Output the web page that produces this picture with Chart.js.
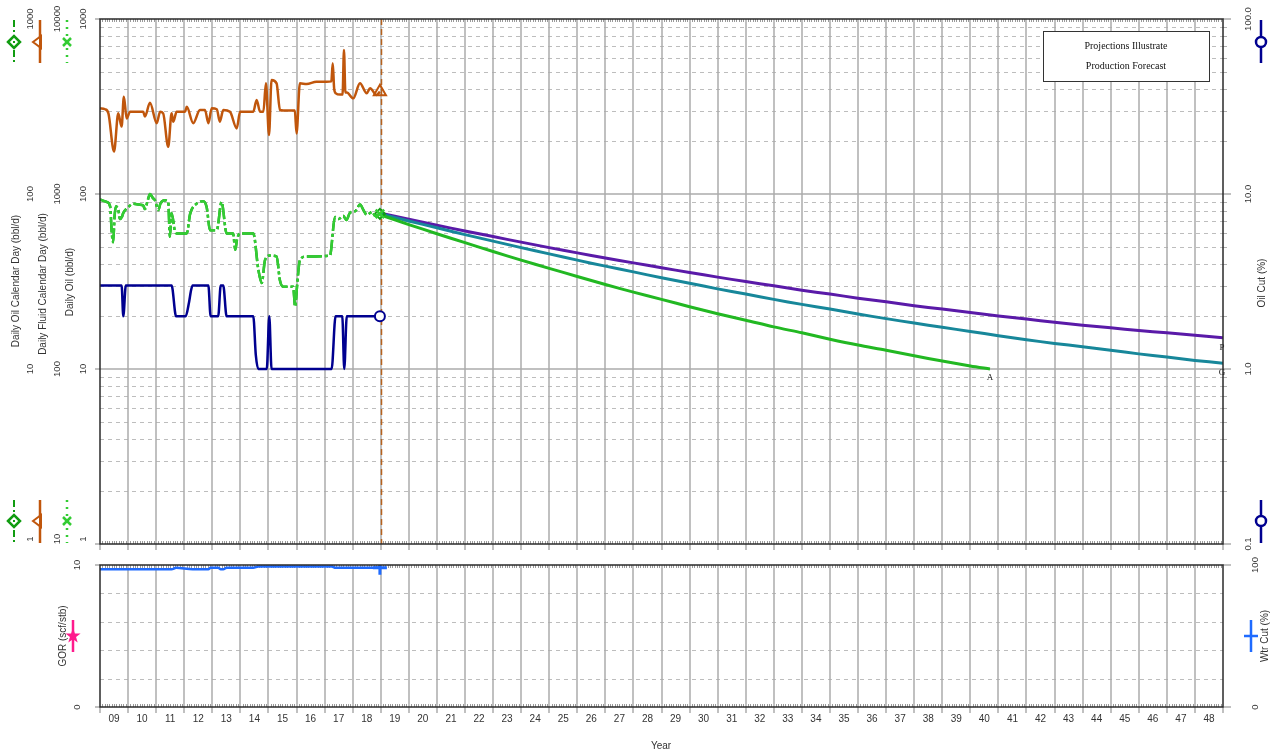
<!DOCTYPE html>
<html><head><meta charset="utf-8"><title>Production Forecast</title>
<script src="https://cdn.jsdelivr.net/npm/chart.js@4.4.1/dist/chart.umd.min.js"></script>
<style>
html,body{margin:0;padding:0;background:#fff;}
body{width:1282px;height:755px;position:relative;overflow:hidden;}
canvas{position:absolute;left:0;}
#top{top:0}
#bot{top:555px}
</style></head><body>
<canvas id="top" width="1282" height="555"></canvas>
<canvas id="bot" width="1282" height="200"></canvas>
<script>
// ---------- DATA ----------
const yearLabels = ['09','10','11','12','13','14','15','16','17','18','19','20','21','22','23','24','25','26','27','28','29','30','31','32','33','34','35','36','37','38','39','40','41','42','43','44','45','46','47','48'];
const oilCalTicks = ['1000','100','10','1'];
const fluidTicks = ['10000','1000','100','10'];
const oilTicks = ['1000','100','10','1'];
const oilCutTicks = ['100.0','10.0','1.0','0.1'];
const gorTicks = ['10','0'];
const wtrTicks = ['100','0'];

// Daily Fluid Calendar Day (bbl/d)
const fluidT = [2009.00,2009.18,2009.30,2009.50,2009.65,2009.77,2009.85,2009.95,2010.07,2010.54,2010.60,2010.78,2011.02,2011.14,2011.25,2011.43,2011.55,2011.61,2011.73,2012.03,2012.09,2012.32,2012.56,2012.74,2012.86,2012.98,2013.16,2013.27,2013.39,2013.63,2013.87,2013.99,2014.46,2014.58,2014.70,2014.82,2014.91,2015.02,2015.11,2015.29,2015.41,2015.53,2015.94,2016.00,2016.12,2016.36,2016.71,2017.07,2017.24,2017.29,2017.34,2017.40,2017.55,2017.64,2017.69,2017.74,2017.79,2018.02,2018.26,2018.50,2018.62,2018.85,2018.97];
const fluidV = [3090,3050,2890,1750,2890,2430,3600,2700,2950,2950,2770,3320,2540,2950,2890,1860,2890,2590,2950,2950,3150,2540,3020,3020,2540,3090,3050,2590,3020,2950,2370,2950,2950,3450,2950,2950,4290,2170,4480,4290,3020,3000,3000,2220,4290,4250,4380,4380,4400,5580,4000,3760,3700,3700,6650,3800,3800,3520,4290,3760,4020,3680,3840];

// Daily Oil Calendar Day / Daily Oil (bbl/d)
const oilT = [2009.00,2009.24,2009.36,2009.42,2009.47,2009.52,2009.57,2009.66,2009.71,2009.78,2009.83,2010.00,2010.19,2010.40,2010.54,2010.60,2010.70,2010.78,2010.88,2010.96,2011.08,2011.15,2011.31,2011.43,2011.49,2011.55,2011.67,2011.73,2012.09,2012.21,2012.44,2012.68,2012.80,2012.92,2013.16,2013.33,2013.51,2013.74,2013.82,2013.88,2013.99,2014.46,2014.64,2014.76,2014.88,2015.05,2015.29,2015.41,2015.53,2015.88,2015.95,2016.02,2016.12,2016.36,2017.19,2017.37,2017.50,2017.66,2017.78,2017.90,2018.10,2018.26,2018.40,2018.50,2018.70,2018.80,2018.97];
const oilCalV = [93,90,85,60,53,75,85,80,72,74,78,84,88,87,86,82,92,100,95,92,81,88,92,90,57,78,61,59.5,59.5,77,88,91,84,62,62,90,59.5,59.5,48,55,59.5,59.5,37,31,42,44.5,44,32,29.5,29.5,22.7,30,42,44,44.5,74,72,75,71,78,80,87,80,76,79,75,77];
const oilV = [93,90,85,60,53,75,85,80,72,74,78,84,88,87,86,82,92,100,95,92,81,88,92,90,57,78,61,59.5,59.5,77,88,91,84,62,62,90,59.5,59.5,48,55,59.5,59.5,37,31,42,44.5,44,32,29.5,29.5,22.7,30,42,44,44.5,74,72,75,71,78,80,87,80,76,79,75,77];

// Oil Cut (%)
const cutT = [2009.00,2009.77,2009.83,2009.92,2011.55,2011.71,2012.05,2012.17,2012.24,2012.30,2012.86,2012.94,2013.21,2013.30,2013.39,2013.51,2014.46,2014.55,2014.64,2014.94,2015.03,2015.11,2017.25,2017.39,2017.63,2017.70,2017.79,2018.97];
const oilCutV = [3,3,2,3,3,2,2,2.4,2.8,3,3,2,2,3,3,2,2,1.2,1,1,2,1,1,2,2,1,2,2];

// Wtr Cut (%)
const wtrT = [2009.00,2011.55,2011.71,2012.30,2012.86,2012.94,2013.21,2013.30,2013.39,2013.51,2014.46,2014.64,2017.25,2017.39,2018.97];
const wtrCutV = [97,97,98,97,97,98,98,97,97,98,98,99,99,98,98];

// Forecasts (bbl/d)
const fcYears = [2019,2020,2021,2022,2023,2024,2025,2026,2027,2028,2029,2030,2031,2032,2033,2034,2035,2036,2037,2038,2039,2040,2041,2042,2043,2044,2045,2046,2047,2048,2049];
const fcP = [77.6,71.7,66.3,61.5,57.1,53.1,49.4,46.1,43.1,40.4,37.9,35.6,33.5,31.6,29.9,28.2,26.8,25.4,24.2,23.0,22.0,21.0,20.1,19.3,18.5,17.8,17.2,16.6,16.1,15.6,15.1];
const fcG = [76.9,70.1,64.1,58.6,53.8,49.4,45.5,41.9,38.7,35.9,33.2,30.9,28.7,26.8,25.0,23.4,22.0,20.6,19.4,18.3,17.3,16.4,15.5,14.7,14.0,13.4,12.8,12.2,11.7,11.2,10.8];
const fcAYears = [2019,2020,2021,2022,2023,2024,2025,2026,2027,2028,2029,2030,2031,2032,2033,2034,2035,2036,2037,2038,2039,2040,2040.7];
const fcA = [75.9,66.9,59.3,52.7,46.9,41.9,37.6,33.8,30.4,27.5,25.0,22.7,20.7,19.0,17.4,16.1,14.8,13.7,12.8,11.9,11.1,10.4,10.0];

// ---------- HELPERS ----------
const SANS = '"Liberation Sans", Arial, sans-serif';
const SERIF = '"Liberation Serif", "Times New Roman", serif';
const pts = (ts, vs) => ts.map((t, i) => ({x: t, y: vs[i]}));
const lastR = r => c => (c.dataIndex === c.dataset.data.length - 1 ? r : 0);
function line(ctx, x1, y1, x2, y2){ ctx.beginPath(); ctx.moveTo(x1, y1); ctx.lineTo(x2, y2); ctx.stroke(); }
function vtext(ctx, s, x, y){ ctx.save(); ctx.translate(x, y); ctx.rotate(-Math.PI/2); ctx.textAlign='center'; ctx.textBaseline='middle'; ctx.fillText(s, 0, 0); ctx.restore(); }

const C_FLUID = '#c0560c', C_OILCAL = '#119c11', C_OIL = '#33cc33', C_CUT = '#000090';
const C_P = '#5a1aa8', C_G = '#17879a', C_A = '#22b822', C_WTR = '#1f6bff', C_GOR = '#ff1a8c';

function drawLegendSym(ctx, kind, x, y1, y2, ym){
  ctx.save();
  if (kind === 'oilcal'){
    ctx.strokeStyle = C_OILCAL; ctx.lineWidth = 2; ctx.setLineDash([7,3,2,3]); line(ctx, x, y1, x, y2); ctx.setLineDash([]);
    ctx.fillStyle = '#fff'; ctx.lineWidth = 2.5; ctx.beginPath(); ctx.moveTo(x-6, ym); ctx.lineTo(x, ym-6); ctx.lineTo(x+6, ym); ctx.lineTo(x, ym+6); ctx.closePath(); ctx.fill(); ctx.stroke();
    ctx.fillStyle = C_OILCAL; ctx.fillRect(x-1, ym-1, 2, 2);
  } else if (kind === 'fluid'){
    ctx.strokeStyle = C_FLUID; ctx.lineWidth = 2.5; line(ctx, x, y1, x, y2);
    ctx.fillStyle = '#fff'; ctx.lineWidth = 2; ctx.beginPath(); ctx.moveTo(x-7, ym); ctx.lineTo(x+1, ym-6); ctx.lineTo(x+1, ym+6); ctx.closePath(); ctx.fill(); ctx.stroke();
    line(ctx, x, y1, x, y2);
  } else if (kind === 'oil'){
    ctx.strokeStyle = C_OIL; ctx.lineWidth = 2.5; ctx.setLineDash([2,5]); line(ctx, x, y1, x, y2); ctx.setLineDash([]);
    ctx.lineWidth = 2.5; line(ctx, x-4, ym-4, x+4, ym+4); line(ctx, x-4, ym+4, x+4, ym-4);
  } else if (kind === 'cut'){
    ctx.strokeStyle = C_CUT; ctx.lineWidth = 2.5; line(ctx, x, y1, x, y2);
    ctx.fillStyle = '#fff'; ctx.beginPath(); ctx.arc(x, ym, 5, 0, Math.PI*2); ctx.fill(); ctx.stroke();
  } else if (kind === 'gor'){
    ctx.strokeStyle = C_GOR; ctx.lineWidth = 2.5; line(ctx, x, y1, x, y2);
    ctx.fillStyle = C_GOR; ctx.beginPath();
    for (let i = 0; i < 10; i++){ const r = i % 2 ? 3.2 : 8; const a = -Math.PI/2 + i*Math.PI/5; ctx.lineTo(x + r*Math.cos(a), ym + r*Math.sin(a)); }
    ctx.closePath(); ctx.fill();
  } else if (kind === 'wtr'){
    ctx.strokeStyle = C_WTR; ctx.lineWidth = 2.5; line(ctx, x, y1, x, y2); line(ctx, x-7, ym, x+7, ym);
  }
  ctx.restore();
}

// ---------- TOP CHART PLUGIN ----------
const topDeco = {
  id: 'topDeco',
  beforeDatasetsDraw(chart){
    const ctx = chart.ctx, a = chart.chartArea, xs = chart.scales.x, ys = chart.scales.y;
    ctx.save();
    ctx.strokeStyle = '#bdbdbd'; ctx.lineWidth = 1; ctx.setLineDash([4,4]);
    for (const dec of [1,10,100]) for (let m = 2; m <= 9; m++){
      const py = Math.round(ys.getPixelForValue(dec*m)) + 0.5; line(ctx, a.left, py, a.right, py);
    }
    ctx.setLineDash([]);
    ctx.strokeStyle = '#b0b0b0'; ctx.lineWidth = 1;
    for (const dec of [1,10,100]) for (let m = 2; m <= 9; m++){
      const py = Math.round(ys.getPixelForValue(dec*m)) + 0.5; line(ctx, a.right, py, a.right+4, py);
    }
    ctx.strokeStyle = '#ababab'; ctx.lineWidth = 1.5;
    for (const v of [10,100]){ const py = Math.round(ys.getPixelForValue(v)); line(ctx, a.left-5, py, a.right+8, py); }
    for (let yr = 2010; yr < 2049; yr++){ const px = Math.round(xs.getPixelForValue(yr)); line(ctx, px, a.top, px, a.bottom+6); }
    line(ctx, a.left, a.bottom, a.left, a.bottom+6); line(ctx, a.right, a.bottom, a.right, a.bottom+6);
    line(ctx, a.left-5, a.top, a.left, a.top); line(ctx, a.left-5, a.bottom, a.left, a.bottom);
    line(ctx, a.right, a.top, a.right+8, a.top); line(ctx, a.right, a.bottom, a.right+8, a.bottom);
    ctx.strokeStyle = '#9a9a9a'; ctx.lineWidth = 1;
    for (let m = 1; m < 480; m++){
      if (m % 12 === 0) continue;
      const px = Math.round(xs.getPixelForValue(2009 + m/12)) + 0.5;
      line(ctx, px, a.top, px, a.top+3); line(ctx, px, a.bottom-3, px, a.bottom);
    }
    // forecast divider
    const dx = Math.round(xs.getPixelForValue(2019)) + 0.5;
    ctx.strokeStyle = '#b5621e'; ctx.lineWidth = 1.5; ctx.setLineDash([6,4]);
    line(ctx, dx, a.top, dx, a.bottom);
    ctx.restore();
  },
  afterDatasetsDraw(chart){
    const ctx = chart.ctx, a = chart.chartArea, xs = chart.scales.x, ys = chart.scales.y;
    const yf = chart.scales.yFluid, yc = chart.scales.yCut;
    ctx.save();
    ctx.strokeStyle = '#2a2a2a'; ctx.lineWidth = 1.5;
    ctx.strokeRect(a.left, a.top, a.right - a.left, a.bottom - a.top);
    ctx.fillStyle = '#222'; ctx.font = '9px ' + SERIF; ctx.textAlign = 'center'; ctx.textBaseline = 'middle';
    ctx.fillText('A', xs.getPixelForValue(fcAYears[fcAYears.length-1]), ys.getPixelForValue(fcA[fcA.length-1]) + 9);
    ctx.fillText('P', xs.getPixelForValue(2049) - 1, ys.getPixelForValue(fcP[fcP.length-1]) + 10);
    ctx.fillText('G', xs.getPixelForValue(2049) - 1, ys.getPixelForValue(fcG[fcG.length-1]) + 9);
    ctx.fillStyle = '#fff'; ctx.fillRect(1043, 31, 166, 50);
    ctx.strokeStyle = '#333'; ctx.lineWidth = 1; ctx.strokeRect(1043.5, 31.5, 166, 50);
    ctx.fillStyle = '#111'; ctx.font = '10px ' + SERIF;
    ctx.fillText('Projections Illustrate', 1126, 46);
    ctx.fillText('Production Forecast', 1126, 66);
    ctx.fillStyle = '#333'; ctx.font = '9.5px ' + SANS;
    const oilVals = [1000,100,10,1], fluidVals = [10000,1000,100,10], cutVals = [100,10,1,0.1];
    oilVals.forEach((v,i) => { let py = ys.getPixelForValue(v); if (i === 3) py -= 5; vtext(ctx, oilCalTicks[i], 30, py); });
    fluidVals.forEach((v,i) => { let py = yf.getPixelForValue(v); if (i === 3) py -= 5; vtext(ctx, fluidTicks[i], 57, py); });
    oilVals.forEach((v,i) => { let py = ys.getPixelForValue(v); if (i === 3) py -= 5; vtext(ctx, oilTicks[i], 83, py); });
    cutVals.forEach((v,i) => { vtext(ctx, oilCutTicks[i], 1248, yc.getPixelForValue(v)); });
    ctx.font = '10px ' + SANS;
    vtext(ctx, 'Daily Oil Calendar Day (bbl/d)', 16, 281);
    vtext(ctx, 'Daily Fluid Calendar Day (bbl/d)', 43, 284);
    vtext(ctx, 'Daily Oil (bbl/d)', 70, 282);
    vtext(ctx, 'Oil Cut (%)', 1262, 283);
    for (const [y1, y2, ym] of [[20, 63, 42], [500, 543, 521]]){
      drawLegendSym(ctx, 'oilcal', 14, y1, y2, ym);
      drawLegendSym(ctx, 'fluid', 40, y1, y2, ym);
      drawLegendSym(ctx, 'oil', 67, y1, y2, ym);
      drawLegendSym(ctx, 'cut', 1261, y1, y2, ym);
    }
    ctx.restore();
  }
};

// ---------- BOTTOM CHART PLUGIN ----------
const botDeco = {
  id: 'botDeco',
  beforeDatasetsDraw(chart){
    const ctx = chart.ctx, a = chart.chartArea, xs = chart.scales.x, ys = chart.scales.y;
    ctx.save();
    ctx.strokeStyle = '#bdbdbd'; ctx.lineWidth = 1; ctx.setLineDash([4,4]);
    for (const v of [20,40,60,80]){ const py = Math.round(ys.getPixelForValue(v)) + 0.5; line(ctx, a.left, py, a.right, py); }
    ctx.setLineDash([]);
    ctx.strokeStyle = '#ababab'; ctx.lineWidth = 1.5;
    for (let yr = 2010; yr < 2049; yr++){ const px = Math.round(xs.getPixelForValue(yr)); line(ctx, px, a.top, px, a.bottom+6); }
    line(ctx, a.left, a.bottom, a.left, a.bottom+6); line(ctx, a.right, a.bottom, a.right, a.bottom+6);
    line(ctx, a.left-5, a.top, a.left, a.top); line(ctx, a.left-5, a.bottom, a.left, a.bottom);
    line(ctx, a.right, a.top, a.right+8, a.top); line(ctx, a.right, a.bottom, a.right+8, a.bottom);
    ctx.strokeStyle = '#9a9a9a'; ctx.lineWidth = 1;
    for (let m = 1; m < 480; m++){
      if (m % 12 === 0) continue;
      const px = Math.round(xs.getPixelForValue(2009 + m/12)) + 0.5;
      line(ctx, px, a.top, px, a.top+3); line(ctx, px, a.bottom-3, px, a.bottom);
    }
    ctx.restore();
  },
  afterDatasetsDraw(chart){
    const ctx = chart.ctx, a = chart.chartArea, xs = chart.scales.x, ys = chart.scales.y, yg = chart.scales.yGor;
    ctx.save();
    ctx.strokeStyle = '#2a2a2a'; ctx.lineWidth = 1.5;
    ctx.strokeRect(a.left, a.top, a.right - a.left, a.bottom - a.top);
    ctx.fillStyle = '#333'; ctx.font = '10px ' + SANS; ctx.textAlign = 'center'; ctx.textBaseline = 'middle';
    yearLabels.forEach((s, i) => ctx.fillText(s, xs.getPixelForValue(2009.5 + i), 164));
    ctx.fillText('Year', 661, 191);
    ctx.font = '9.5px ' + SANS;
    [10, 0].forEach((v, i) => vtext(ctx, gorTicks[i], 77, yg.getPixelForValue(v)));
    [100, 0].forEach((v, i) => vtext(ctx, wtrTicks[i], 1255, ys.getPixelForValue(v)));
    ctx.font = '10px ' + SANS;
    vtext(ctx, 'GOR (scf/stb)', 63, 81);
    vtext(ctx, 'Wtr Cut (%)', 1265, 81);
    drawLegendSym(ctx, 'gor', 73, 65, 97, 81);
    drawLegendSym(ctx, 'wtr', 1251, 65, 97, 81);
    ctx.restore();
  }
};

const common = {
  responsive: false, animation: false, events: [],
  plugins: { legend: { display: false }, tooltip: { enabled: false } }
};

new Chart(document.getElementById('top'), {
  type: 'line',
  data: { datasets: [
    { label: 'Daily Oil', data: pts(oilT, oilV), yAxisID: 'y', borderColor: C_OIL, borderWidth: 2.5, borderDash: [15,3,3,3],
      cubicInterpolationMode: 'monotone', pointStyle: 'crossRot', pointRadius: lastR(6), pointBorderColor: C_OIL, pointBorderWidth: 2.5 },
    { label: 'Daily Oil Calendar Day', data: pts(oilT, oilCalV), yAxisID: 'y', borderColor: C_OILCAL, borderWidth: 2.5, borderDash: [15,3,3,3],
      cubicInterpolationMode: 'monotone', pointStyle: 'rectRot', pointRadius: lastR(5), pointBorderColor: C_OILCAL, pointBackgroundColor: 'rgba(255,255,255,0)', pointBorderWidth: 2 },
    { label: 'Daily Fluid Calendar Day', data: pts(fluidT, fluidV), yAxisID: 'yFluid', borderColor: C_FLUID, borderWidth: 2.5,
      cubicInterpolationMode: 'monotone', pointStyle: 'triangle', pointRadius: lastR(7), pointBorderColor: C_FLUID, pointBackgroundColor: 'rgba(255,255,255,0)', pointBorderWidth: 2 },
    { label: 'Oil Cut', data: pts(cutT, oilCutV), yAxisID: 'yCut', borderColor: C_CUT, borderWidth: 2.5,
      cubicInterpolationMode: 'monotone', pointStyle: 'circle', pointRadius: lastR(5), pointBorderColor: C_CUT, pointBackgroundColor: '#fff', pointBorderWidth: 2 },
    { label: 'A', data: pts(fcAYears, fcA), yAxisID: 'y', borderColor: C_A, borderWidth: 3, pointRadius: 0, tension: 0.3 },
    { label: 'G', data: pts(fcYears, fcG), yAxisID: 'y', borderColor: C_G, borderWidth: 3, pointRadius: 0, tension: 0.3 },
    { label: 'P', data: pts(fcYears, fcP), yAxisID: 'y', borderColor: C_P, borderWidth: 3, pointRadius: 0, tension: 0.3 }
  ]},
  options: Object.assign({}, common, {
    layout: { padding: { left: 100, right: 59, top: 19, bottom: 11 } },
    scales: {
      x: { type: 'linear', min: 2009, max: 2049, display: false },
      y: { type: 'logarithmic', min: 1, max: 1000, display: false },
      yFluid: { type: 'logarithmic', min: 10, max: 10000, display: false },
      yCut: { type: 'logarithmic', min: 0.1, max: 100, display: false }
    }
  }),
  plugins: [topDeco]
});

new Chart(document.getElementById('bot'), {
  type: 'line',
  data: { datasets: [
    { label: 'Wtr Cut', data: pts(wtrT, wtrCutV), yAxisID: 'y', borderColor: C_WTR, borderWidth: 2.5,
      cubicInterpolationMode: 'monotone', pointStyle: 'cross', pointRadius: lastR(7), pointBorderColor: C_WTR, pointBorderWidth: 3 }
  ]},
  options: Object.assign({}, common, {
    layout: { padding: { left: 100, right: 59, top: 10, bottom: 48 } },
    scales: {
      x: { type: 'linear', min: 2009, max: 2049, display: false },
      y: { type: 'linear', min: 0, max: 100, display: false },
      yGor: { type: 'linear', min: 0, max: 10, display: false }
    }
  }),
  plugins: [botDeco]
});
</script>
</body></html>
